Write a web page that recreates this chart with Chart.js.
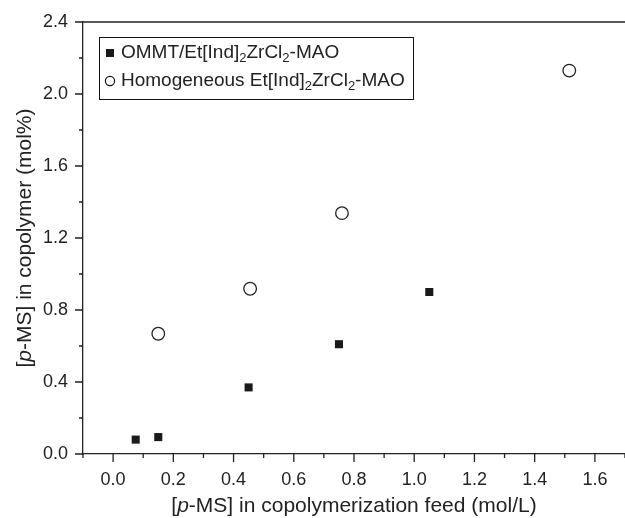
<!DOCTYPE html>
<html>
<head>
<meta charset="utf-8">
<script src="https://cdn.jsdelivr.net/npm/chart.js@4.4.1/dist/chart.umd.min.js"></script>
<style>
  html, body { margin: 0; padding: 0; background: #fff; }
  #wrap { width: 625px; height: 518px; }
</style>
</head>
<body>
<div id="wrap"><canvas id="myChart" width="625" height="518"></canvas></div>
<script>
// data

let feed_ommt = [0.075, 0.15, 0.45, 0.75, 1.05];
let cop_ommt = [0.08, 0.094, 0.37, 0.61, 0.90];

let feed_homo = [0.15, 0.455, 0.76, 1.515];
let cop_homo = [0.668, 0.918, 1.338, 2.13];

let x_major = [0.0, 0.2, 0.4, 0.6, 0.8, 1.0, 1.2, 1.4, 1.6];
let x_labels = ['0.0', '0.2', '0.4', '0.6', '0.8', '1.0', '1.2', '1.4', '1.6'];
let x_minor = [-0.1, 0.1, 0.3, 0.5, 0.7, 0.9, 1.1, 1.3, 1.5, 1.7];

let y_major = [0.0, 0.4, 0.8, 1.2, 1.6, 2.0, 2.4];
let y_labels = ['0.0', '0.4', '0.8', '1.2', '1.6', '2.0', '2.4'];
let y_minor = [0.2, 0.6, 1.0, 1.4, 1.8, 2.2];

// text pieces: [text, style]  style: n = normal, i = italic, s = subscript
let x_title = [['[', 'n'], ['p', 'i'], ['-MS] in copolymerization feed (mol/L)', 'n']];
let y_title = [['[', 'n'], ['p', 'i'], ['-MS] in copolymer (mol%)', 'n']];
let legend_rows = [
    [['OMMT/Et[Ind]', 'n'], ['2', 's'], ['ZrCl', 'n'], ['2', 's'], ['-MAO', 'n']],
    [['Homogeneous Et[Ind]', 'n'], ['2', 's'], ['ZrCl', 'n'], ['2', 's'], ['-MAO', 'n']]
];

const FONT = '"Liberation Sans", Arial, sans-serif';
const INK = '#222';

function pieceFont(style, size) {
    if (style === 'i') return 'italic ' + size + 'px ' + FONT;
    if (style === 's') return Math.round(size * 0.7) + 'px ' + FONT;
    return size + 'px ' + FONT;
}

function piecesWidth(ctx, pieces, size) {
    let w = 0;
    pieces.forEach(p => { ctx.font = pieceFont(p[1], size); w += ctx.measureText(p[0]).width; });
    return w;
}

function drawPieces(ctx, pieces, x, y, size) {
    ctx.textAlign = 'left';
    ctx.textBaseline = 'middle';
    pieces.forEach(p => {
        ctx.font = pieceFont(p[1], size);
        let dy = p[1] === 's' ? size * 0.3 : 0;
        ctx.fillText(p[0], x, y + dy);
        x += ctx.measureText(p[0]).width;
    });
}

// ticks, frame, titles and legend
const extras = {
    id: 'extras',
    afterDraw(chart) {
        const ctx = chart.ctx;
        const xs = chart.scales.x;
        const ys = chart.scales.y;
        const area = chart.chartArea;
        ctx.save();
        ctx.strokeStyle = INK;
        ctx.fillStyle = INK;
        ctx.lineWidth = 1.3;

        // top frame line
        ctx.beginPath();
        ctx.moveTo(area.left, area.top);
        ctx.lineTo(area.right, area.top);
        ctx.stroke();

        // tick marks
        ctx.beginPath();
        x_major.forEach(v => { let px = xs.getPixelForValue(v); ctx.moveTo(px, area.bottom); ctx.lineTo(px, area.bottom + 8); });
        x_minor.forEach(v => { let px = xs.getPixelForValue(v); ctx.moveTo(px, area.bottom); ctx.lineTo(px, area.bottom + 4); });
        y_major.forEach(v => { let py = ys.getPixelForValue(v); ctx.moveTo(area.left, py); ctx.lineTo(area.left - 8, py); });
        y_minor.forEach(v => { let py = ys.getPixelForValue(v); ctx.moveTo(area.left, py); ctx.lineTo(area.left - 4, py); });
        ctx.stroke();

        // axis titles
        let tsize = 21;
        let w = piecesWidth(ctx, x_title, tsize);
        drawPieces(ctx, x_title, (area.left + area.right) / 2 - w / 2, 506, tsize);

        w = piecesWidth(ctx, y_title, tsize);
        ctx.save();
        ctx.translate(25, (area.top + area.bottom) / 2);
        ctx.rotate(-Math.PI / 2);
        drawPieces(ctx, y_title, -w / 2, 0, tsize);
        ctx.restore();

        // legend
        ctx.lineWidth = 1;
        ctx.strokeStyle = '#111';
        ctx.strokeRect(99.5, 37.5, 314, 62);
        let rows_y = [53, 81];
        ctx.fillStyle = '#1a1a1a';
        ctx.fillRect(106, rows_y[0] - 4, 8, 8);
        ctx.beginPath();
        ctx.lineWidth = 1.2;
        ctx.arc(110, rows_y[1], 4.6, 0, Math.PI * 2);
        ctx.stroke();
        ctx.fillStyle = INK;
        legend_rows.forEach((row, i) => drawPieces(ctx, row, 121, rows_y[i], 19));

        ctx.restore();
    }
};

const ctx = document.getElementById('myChart').getContext('2d');
const myChart = new Chart(ctx, {
    type: 'scatter',
    data: {
        datasets: [{
            label: 'OMMT',
            data: feed_ommt.map((x, i) => ({x: x, y: cop_ommt[i]})),
            pointStyle: 'rect',
            pointRadius: 5.7,
            pointHoverRadius: 5.7,
            backgroundColor: '#1a1a1a',
            borderColor: '#1a1a1a',
            borderWidth: 0
        }, {
            label: 'Homogeneous',
            data: feed_homo.map((x, i) => ({x: x, y: cop_homo[i]})),
            pointStyle: 'circle',
            pointRadius: 6.3,
            pointHoverRadius: 6.3,
            backgroundColor: 'rgba(255,255,255,0)',
            borderColor: '#222',
            borderWidth: 1.3
        }]
    },
    options: {
        responsive: false,
        animation: false,
        layout: { autoPadding: false, padding: { top: 22, left: 0, right: 0, bottom: 0 } },
        plugins: { legend: { display: false }, tooltip: { enabled: false } },
        scales: {
            x: {
                type: 'linear',
                min: -0.1,
                max: 1.7,
                afterBuildTicks: s => { s.ticks = x_major.map(v => ({value: v})); },
                afterFit: s => { s.height = 64; s.paddingLeft = 0; s.paddingRight = 0; },
                grid: { display: false, drawTicks: false },
                border: { display: true, color: INK, width: 1.3 },
                ticks: {
                    autoSkip: false,
                    maxRotation: 0,
                    padding: 15,
                    color: INK,
                    font: { family: FONT, size: 18 },
                    callback: (v, i) => x_labels[i]
                }
            },
            y: {
                type: 'linear',
                min: 0,
                max: 2.4,
                afterBuildTicks: s => { s.ticks = y_major.map(v => ({value: v})); },
                afterFit: s => { s.width = 83; s.paddingTop = 0; s.paddingBottom = 0; },
                grid: { display: false, drawTicks: false },
                border: { display: true, color: INK, width: 1.3 },
                ticks: {
                    autoSkip: false,
                    padding: 15,
                    color: INK,
                    font: { family: FONT, size: 18 },
                    callback: (v, i) => y_labels[i]
                }
            }
        }
    },
    plugins: [extras]
});
</script>
</body>
</html>
